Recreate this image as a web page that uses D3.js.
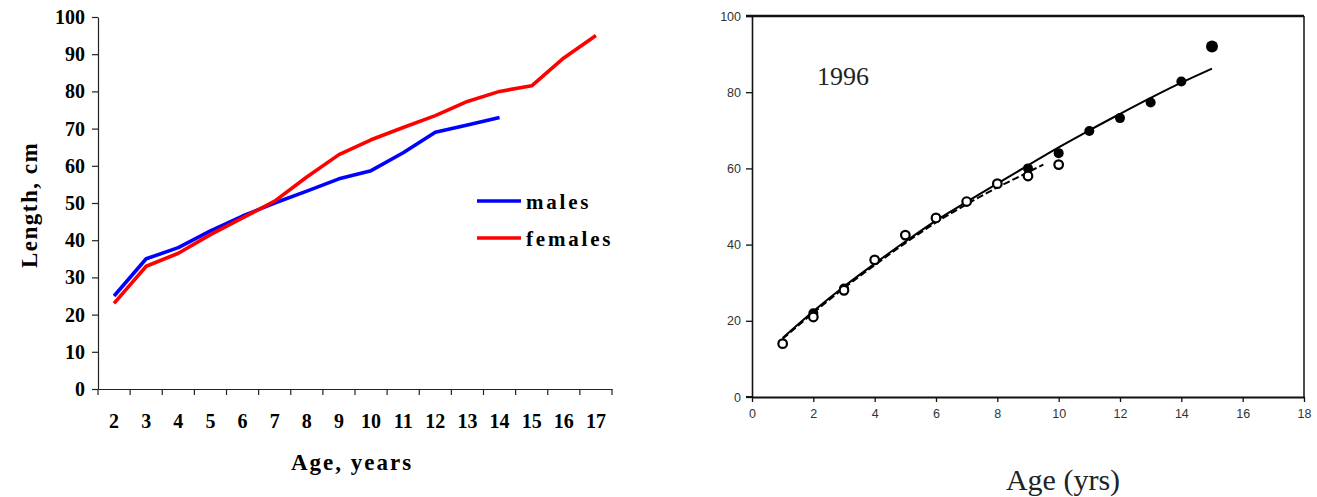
<!DOCTYPE html>
<html><head><meta charset="utf-8">
<script src="https://cdn.jsdelivr.net/npm/d3@7"></script>
<style>body{margin:0;background:#fff}</style>
</head><body>
<svg id="c" width="1317" height="497"></svg>
<script>
// ---- Left chart data ----
const ages = [2,3,4,5,6,7,8,9,10,11,12,13,14,15,16,17];
const malesAges = [2,3,4,5,6,7,8,9,10,11,12,13,14];
const malesLen = [25,35,38,42.5,46.5,50,53.2,56.5,58.7,63.5,69,71,73];
const femalesAges = [2,3,4,5,6,7,8,9,10,11,12,13,14,15,16,17];
const femalesLen = [23,33,36.5,41.5,46,50.5,57,63,67,70.3,73.5,77.3,80,81.5,89,95];
const leftYTicks = [0,10,20,30,40,50,60,70,80,90,100];

// ---- Right chart data ----
const openAges = [1,2,3,4,5,6,7,8,9,10];
const openLen = [14,21,28,36,42.5,47,51.3,56,58,61];
const filledAges = [2,3,9,10,11,12,13,14];
const filledLen = [22,28.5,60,64,69.8,73.2,77.3,82.8];
const bigAges = [15];
const bigLen = [92];
const fitAllAges = [1,2,3,4,5,6,7,8,9,10,11,12,13,14,15];
const fitAllLen = [15.5,22.5,29,35,40.8,46.3,51.2,56,60.8,65.5,70,74.3,78.5,82.5,86.2];
const fitJuvAges = [1,2,3,4,5,6,7,8,8.6,9.5];
const fitJuvLen = [15.3,22.1,28.6,34.6,40.4,45.8,50.6,55,57.4,61];
const rightXTicks = [0,2,4,6,8,10,12,14,16,18];
const rightYTicks = [0,20,40,60,80,100];

const svg = d3.select("#c");
const serif = "'Liberation Serif','Times New Roman',serif";
const sans = "'Liberation Sans',Arial,sans-serif";

// ===== Left chart =====
const L = {x0:98, x1:612, y0:389, y1:17};
const xb = d3.scaleBand().domain(ages).range([L.x0, L.x1]);
const yl = d3.scaleLinear().domain([0,100]).range([L.y0, L.y1]);
const gl = svg.append("g");

const yAx = gl.append("g").attr("transform",`translate(${L.x0},0)`)
  .call(d3.axisLeft(yl).tickValues(leftYTicks).tickSize(6).tickSizeOuter(0).tickPadding(7));
yAx.selectAll("text").attr("font-family",serif).attr("font-weight","bold").attr("font-size",20).attr("fill","#000");
yAx.selectAll("line,path").attr("stroke","#222").attr("stroke-width",1.2);

const xAx = gl.append("g").attr("transform",`translate(0,${L.y0})`)
  .call(d3.axisBottom(xb).tickSize(0).tickPadding(25));
xAx.select("path").attr("stroke","#222").attr("stroke-width",1.2);
xAx.selectAll("text").attr("font-family",serif).attr("font-weight","bold").attr("font-size",20).attr("fill","#000");
// boundary ticks
const bounds = ages.map(a=>xb(a)).concat([L.x1]);
gl.append("g").selectAll("line").data(bounds).join("line")
  .attr("x1",d=>d).attr("x2",d=>d).attr("y1",L.y0).attr("y2",L.y0+6)
  .attr("stroke","#222").attr("stroke-width",1.2);

const lineL = d3.line().x(d=>xb(d[0])+xb.bandwidth()/2).y(d=>yl(d[1]));
gl.append("path").datum(malesAges.map((a,i)=>[a,malesLen[i]]))
  .attr("d",lineL).attr("fill","none").attr("stroke","#0000ff").attr("stroke-width",3.6).attr("stroke-linejoin","round");
gl.append("path").datum(femalesAges.map((a,i)=>[a,femalesLen[i]]))
  .attr("d",lineL).attr("fill","none").attr("stroke","#ff0000").attr("stroke-width",3.6).attr("stroke-linejoin","round");

// legend
const legend = [["males","#0000ff"],["females","#ff0000"]];
legend.forEach((d,i)=>{
  const y = 201 + i*37;
  gl.append("line").attr("x1",477).attr("x2",521).attr("y1",y).attr("y2",y)
    .attr("stroke",d[1]).attr("stroke-width",3.6);
  gl.append("text").attr("x",526).attr("y",y+8).text(d[0])
    .attr("font-family",serif).attr("font-weight","bold").attr("font-size",21).attr("letter-spacing",2.8);
});

gl.append("text").attr("x",352).attr("y",470).attr("text-anchor","middle").text("Age, years")
  .attr("font-family",serif).attr("font-weight","bold").attr("font-size",23).attr("letter-spacing",2);
gl.append("text").attr("transform","translate(29,205) rotate(-90)").attr("text-anchor","middle").attr("dy","0.35em")
  .text("Length, cm").attr("font-family",serif).attr("font-weight","bold").attr("font-size",23).attr("letter-spacing",1.5);

// ===== Right chart =====
const R = {x0:752, x1:1304, y0:397, y1:16};
const xr = d3.scaleLinear().domain([0,18]).range([R.x0,R.x1]);
const yr = d3.scaleLinear().domain([0,100]).range([R.y0,R.y1]);
const gr = svg.append("g");

const rx = gr.append("g").attr("transform",`translate(0,${R.y0})`)
  .call(d3.axisBottom(xr).tickValues(rightXTicks).tickSize(5).tickSizeOuter(0).tickPadding(7));
rx.selectAll("text").attr("font-family",sans).attr("font-size",12.5).attr("fill","#333");
rx.selectAll("line").attr("stroke","#111").attr("stroke-width",1.3);
rx.select("path").attr("stroke","#111").attr("stroke-width",2);
const ry = gr.append("g").attr("transform",`translate(${R.x0},0)`)
  .call(d3.axisLeft(yr).tickValues(rightYTicks).tickSize(6).tickSizeOuter(0).tickPadding(5));
ry.selectAll("text").attr("font-family",sans).attr("font-size",12.5).attr("fill","#333");
ry.selectAll("line").attr("stroke","#111").attr("stroke-width",1.3);
ry.select("path").attr("stroke","#111").attr("stroke-width",1.6);
// frame top/right
gr.append("line").attr("x1",R.x0-6).attr("x2",R.x1).attr("y1",R.y1).attr("y2",R.y1).attr("stroke","#111").attr("stroke-width",2.4);
gr.append("line").attr("x1",R.x1).attr("x2",R.x1).attr("y1",R.y1).attr("y2",R.y0).attr("stroke","#111").attr("stroke-width",1.5);
gr.append("line").attr("x1",R.x0-6).attr("x2",R.x0).attr("y1",R.y0).attr("y2",R.y0).attr("stroke","#111").attr("stroke-width",2);

const lineR = d3.line().curve(d3.curveMonotoneX).x(d=>xr(d[0])).y(d=>yr(d[1]));
gr.append("path").datum(fitAllAges.map((a,i)=>[a,fitAllLen[i]]))
  .attr("d",lineR).attr("fill","none").attr("stroke","#000").attr("stroke-width",2);
gr.append("path").datum(fitJuvAges.map((a,i)=>[a,fitJuvLen[i]]))
  .attr("d",lineR).attr("fill","none").attr("stroke","#000").attr("stroke-width",2).attr("stroke-dasharray","7,3");

gr.append("g").selectAll("circle").data(filledAges.map((a,i)=>[a,filledLen[i]])).join("circle")
  .attr("cx",d=>xr(d[0])).attr("cy",d=>yr(d[1])).attr("r",5).attr("fill","#000");
gr.append("g").selectAll("circle").data(openAges.map((a,i)=>[a,openLen[i]])).join("circle")
  .attr("cx",d=>xr(d[0])).attr("cy",d=>yr(d[1])).attr("r",4.3).attr("fill","#fff").attr("stroke","#000").attr("stroke-width",2.2);
gr.append("g").selectAll("circle").data(bigAges.map((a,i)=>[a,bigLen[i]])).join("circle")
  .attr("cx",d=>xr(d[0])).attr("cy",d=>yr(d[1])).attr("r",6).attr("fill","#000");

gr.append("text").attr("x",817).attr("y",85).text("1996")
  .attr("font-family",serif).attr("font-size",26).attr("fill","#222");
gr.append("text").attr("x",1063).attr("y",490).attr("text-anchor","middle").text("Age (yrs)")
  .attr("font-family",serif).attr("font-size",30).attr("fill","#222");
</script>
</body></html>
